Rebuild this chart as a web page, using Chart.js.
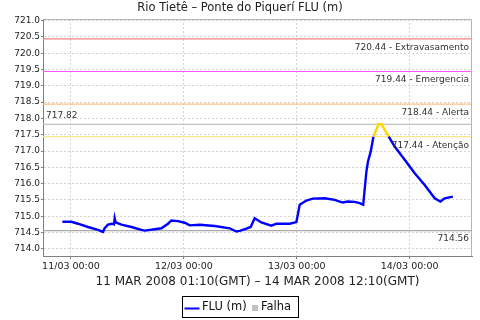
<!DOCTYPE html>
<html><head><meta charset="utf-8">
<script src="https://cdn.jsdelivr.net/npm/chart.js@4/dist/chart.umd.min.js"></script>
<style>html,body{margin:0;padding:0;background:#fff}canvas{display:block}</style>
</head><body>
<canvas id="c" width="480" height="320"></canvas>
<script>
const chartTitle = 'Rio Tietê – Ponte do Piquerí FLU (m)';
const xAxisTitle = '11 MAR 2008 01:10(GMT) – 14 MAR 2008 12:10(GMT)';
const seriesName = 'FLU (m)';
const failName = 'Falha';

// hours counted from 11/03 00:00 (local time)
const hours = [-1.83, 0.09, 1.49, 3.61, 5.74, 6.80, 7.16, 7.87, 8.72, 9.14, 9.29, 9.50, 10.71, 12.84, 14.97, 15.67, 17.79, 19.22, 20.62, 21.34, 22.75,
  24.17, 25.23, 27.36, 30.55, 33.74, 35.16, 35.86, 37.29, 38.20, 39.05, 40.47, 42.60, 43.66, 46.49, 47.92,
  48.62, 50.04, 51.38, 53.93, 56.05, 57.76, 58.82, 60.31, 61.37, 62.12, 62.80, 63.14, 63.71, 64.30, 64.77, 65.41, 66.05, 66.69, 67.54, 68.81,
  70.94, 73.07, 75.19, 77.32, 78.53, 79.45, 81.17];
const levels = [714.83, 714.83, 714.77, 714.67, 714.58, 714.52, 714.63, 714.74, 714.77, 714.75, 714.94, 714.81, 714.74, 714.67, 714.58, 714.56, 714.60, 714.63, 714.77, 714.87, 714.85,
  714.80, 714.72, 714.74, 714.70, 714.63, 714.53, 714.55, 714.62, 714.67, 714.94, 714.81, 714.71, 714.77, 714.77, 714.82,
  715.35, 715.48, 715.54, 715.55, 715.50, 715.42, 715.45, 715.44, 715.40, 715.35, 716.37, 716.68, 716.98, 717.44, 717.62, 717.82, 717.82, 717.65, 717.44, 717.14,
  716.73, 716.32, 715.96, 715.55, 715.45, 715.55, 715.60];

const xTickValues = [0, 24, 48, 72];
const xTickLabels = ['11/03 00:00', '12/03 00:00', '13/03 00:00', '14/03 00:00'];
const xMin = -5.95, xMax = 85.25;
const yMin = 713.78, yMax = 721.05, yStep = 0.5;

const thresholdValues = [720.44, 719.44, 718.44, 717.82, 717.44, 714.56];
const thresholdLabels = ['720.44 - Extravasamento', '719.44 - Emergencia', '718.44 - Alerta', '717.82', '717.44 - Atenção', '714.56'];
const thresholdColors = ['#f08080', '#ff55ff', '#ffc080', '#c0c0c0', '#f5e88a', '#a8a8a8'];
const thresholdAlign = ['right', 'right', 'right', 'left', 'right', 'right'];
const attentionLevel = 717.44;

const FONT = "'DejaVu Sans', sans-serif";
const BLUE = '#0000ff', YELLOW = '#ffd700';

const datasets = [{
  label: seriesName,
  data: hours.map((h, i) => ({x: h, y: levels[i]})),
  borderColor: BLUE,
  borderWidth: 2.4,
  pointRadius: 0,
  tension: 0,
  segment: {
    borderColor: ctx => (ctx.p0.parsed.y >= attentionLevel - 1e-9 && ctx.p1.parsed.y >= attentionLevel - 1e-9) ? YELLOW : BLUE
  }
}];
thresholdValues.forEach((v, i) => {
  datasets.push({
    label: thresholdLabels[i],
    data: [{x: xMin, y: v}, {x: xMax, y: v}],
    borderColor: thresholdColors[i],
    borderWidth: 1.2,
    pointRadius: 0
  });
});

const decor = {
  id: 'decor',
  beforeDraw(chart) {
    const c = chart.ctx;
    c.save(); c.fillStyle = '#fff'; c.fillRect(0, 0, chart.width, chart.height); c.restore();
  },
  afterDatasetsDraw(chart) {
    const c = chart.ctx, a = chart.chartArea, ys = chart.scales.y;
    c.save();
    c.strokeStyle = '#b4b4b4'; c.lineWidth = 1;
    c.beginPath();
    c.moveTo(a.left, a.top + 0.5); c.lineTo(a.right - 0.5, a.top + 0.5); c.lineTo(a.right - 0.5, a.bottom);
    c.stroke();
    c.font = '9px ' + FONT; c.fillStyle = '#333'; c.textBaseline = 'middle';
    thresholdValues.forEach((v, i) => {
      const py = ys.getPixelForValue(v);
      if (thresholdAlign[i] === 'left') {
        c.textAlign = 'left'; c.fillText(thresholdLabels[i], a.left + 3, py - 8.5);
      } else {
        c.textAlign = 'right'; c.fillText(thresholdLabels[i], a.right - 3, py + 8.5);
      }
    });
    c.fillStyle = '#222'; c.textAlign = 'center';
    c.font = '11.5px ' + FONT;
    c.fillText(chartTitle, 240, 8.5);
    c.font = '12px ' + FONT;
    c.fillText(xAxisTitle, (a.left + a.right) / 2, 282);
    c.strokeStyle = '#000'; c.lineWidth = 1;
    c.strokeRect(182.5, 296.5, 116, 21);
    c.strokeStyle = BLUE; c.lineWidth = 2;
    c.beginPath(); c.moveTo(184.5, 308.5); c.lineTo(199.5, 308.5); c.stroke();
    c.font = '11.5px ' + FONT; c.textAlign = 'left'; c.fillStyle = '#111';
    c.fillText(seriesName, 202, 307.5);
    c.fillStyle = '#c0c0c0'; c.fillRect(252, 305, 6, 6);
    c.fillStyle = '#111';
    c.fillText(failName, 261, 307.5);
    c.restore();
  }
};

new Chart(document.getElementById('c'), {
  type: 'line',
  data: {datasets},
  plugins: [decor],
  options: {
    responsive: false,
    animation: false,
    devicePixelRatio: 1,
    layout: {padding: {top: 19, right: 8, left: 0, bottom: 0}},
    plugins: {legend: {display: false}, title: {display: false}, tooltip: {enabled: false}},
    scales: {
      x: {
        type: 'linear', min: xMin, max: xMax,
        afterBuildTicks: s => { s.ticks = xTickValues.map(v => ({value: v})); },
        afterFit: s => { s.height = 64; },
        ticks: {
          callback: v => xTickLabels[xTickValues.indexOf(v)] || '',
          maxRotation: 0, autoSkip: false, padding: 2,
          font: {family: FONT, size: 9.5}, color: '#222'
        },
        grid: {color: '#d4d4d4', tickLength: 3, tickColor: '#808080'},
        border: {color: '#808080', width: 1, dash: [2, 2]}
      },
      y: {
        type: 'linear', min: yMin, max: yMax,
        afterFit: s => { s.width = 43; },
        ticks: {
          stepSize: yStep, includeBounds: false, padding: 1,
          callback: v => v.toFixed(1),
          font: {family: FONT, size: 9}, color: '#222'
        },
        grid: {color: '#d4d4d4', tickLength: 2, tickColor: '#808080'},
        border: {color: '#808080', width: 1, dash: [2, 2]}
      }
    }
  }
});
</script>
</body></html>
